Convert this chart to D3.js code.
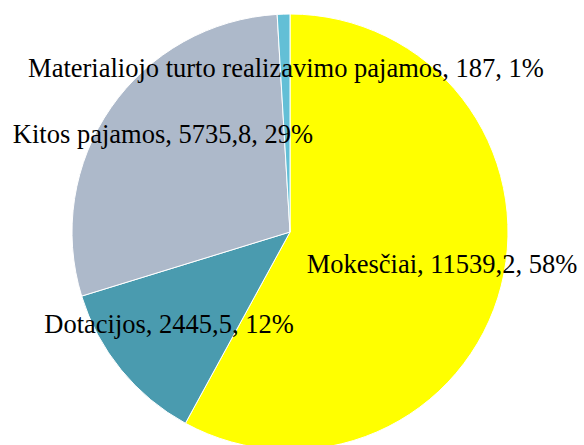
<!DOCTYPE html>
<html>
<head>
<meta charset="utf-8">
<script src="https://cdn.jsdelivr.net/npm/d3@7"></script>
<style>
  body { margin: 0; background: #fff; }
  svg { display: block; }
  .labels { font-family: "Liberation Serif", "Times New Roman", serif; font-size: 26.5px; fill: #000; }
</style>
</head>
<body>
<div id="chart"></div>
<script>
// Data
const categories = ["Mokesčiai", "Dotacijos", "Kitos pajamos", "Materialiojo turto realizavimo pajamos"];
const values = [11539.2, 2445.5, 5735.8, 187];
const valueLabels = ["11539,2", "2445,5", "5735,8", "187"];
const percentLabels = ["58%", "12%", "29%", "1%"];
const colors = ["#ffff00", "#4a9baf", "#adb9ca", "#63bfd6"];

function draw() {
  // Dimensions
  const dimensions = { width: 584, height: 445, cx: 290, cy: 232, radius: 218 };

  // label centres (baseline), offset from the pie centre
  const labelOffsets = [[152, 41], [-121, 101], [-127, -89], [-4, -155]];

  const svg = d3
    .select("#chart")
    .append("svg")
    .attr("width", dimensions.width)
    .attr("height", dimensions.height);

  const ctr = svg
    .append("g")
    .attr("transform", `translate(${dimensions.cx}, ${dimensions.cy})`);

  const pie = d3.pie().sort(null).value((d) => d);
  const arcs = pie(values);

  const arcGenerator = d3.arc().innerRadius(0).outerRadius(dimensions.radius);

  ctr
    .selectAll("path")
    .data(arcs)
    .join("path")
    .attr("d", arcGenerator)
    .attr("fill", (d, i) => colors[i])
    .attr("stroke", "#ffffff")
    .attr("stroke-width", 1);

  ctr
    .selectAll("text")
    .data(arcs)
    .join("text")
    .classed("labels", true)
    .attr("x", (d, i) => labelOffsets[i][0])
    .attr("y", (d, i) => labelOffsets[i][1])
    .attr("text-anchor", "middle")
    .text((d, i) => `${categories[i]}, ${valueLabels[i]}, ${percentLabels[i]}`);
}

draw();
</script>
</body>
</html>
